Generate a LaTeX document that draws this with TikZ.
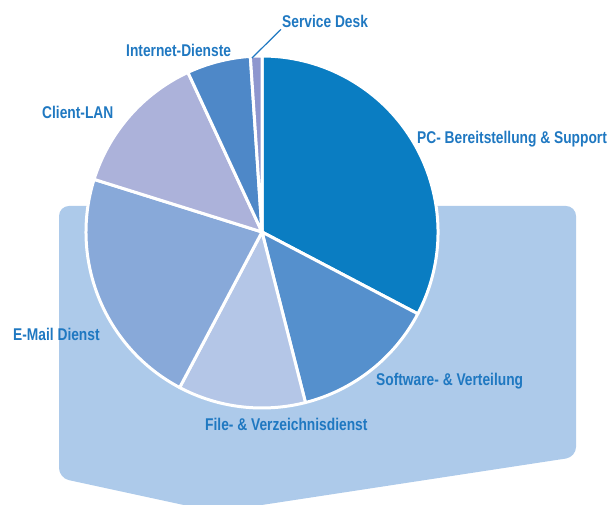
\documentclass[tikz,border=0pt]{standalone}
\usepackage{fontspec}
\setmainfont[FakeStretch=0.81]{Liberation Sans}
\usepackage{tikz}
\usetikzlibrary{calc}
\definecolor{labelblue}{HTML}{1F78C1}
\definecolor{backblue}{HTML}{ADCAEA}
\definecolor{pcblue}{HTML}{0A7DC2}
\definecolor{swblue}{HTML}{5590CD}
\definecolor{fileblue}{HTML}{B4C6E7}
\definecolor{mailblue}{HTML}{88A9D9}
\definecolor{lanblue}{HTML}{ACB2DA}
\definecolor{netblue}{HTML}{4E88C8}
\definecolor{deskblue}{HTML}{8E96CE}

\begin{document}
\begin{tikzpicture}[x=1pt, y=1pt,
	slice/.style={draw=white, line width=3pt, line join=round},
	tag/.style={anchor=base west, inner sep=0pt, text=labelblue,
		font=\bfseries\fontsize{17}{19}\selectfont}]

% parameters %{{{2

	\def\radius{176}

% frame %{{{2

	\useasboundingbox (0,0) rectangle (610,505);

% background %{{{2

	\fill[backblue, rounded corners=10pt]
		(59,299) -- (576,299) -- (576,48) -- (216,-7) -- (59,27) -- cycle;

% coordinates %{{{2

	\coordinate (O) at (262,273);

% slices %{{{2

	\foreach \a/\b/\c in {
		-27.7/90/pcblue,
		-75.7/-27.7/swblue,
		-117.9/-75.7/fileblue,
		-197.4/-117.9/mailblue,
		-245.1/-197.4/lanblue,
		-266.2/-245.1/netblue,
		-270/-266.2/deskblue} {
		\filldraw[slice, fill=\c] (O) -- ++(\a:\radius) arc (\a:\b:\radius) -- cycle;
	}

% labels %{{{2

	\node[tag] (desk) at (282,477) {Service Desk};
	\node[tag] (net) at (126,448) {Internet-Dienste};
	\node[tag] (lan) at (42,386) {Client-LAN};
	\node[tag] (pc) at (417,361) {PC- Bereitstellung \& Support};
	\node[tag] (mail) at (13,164) {E-Mail Dienst};
	\node[tag] (sw) at (376,119) {Software- \& Verteilung};
	\node[tag] (file) at (205,74) {File- \& Verzeichnisdienst};

% leader line %{{{2

	\coordinate (desktip) at ($(O)+(92:\radius)+(-4,-2)$);
	\draw[labelblue, line width=1.2pt] (desktip) -- ([xshift=-1pt,yshift=-1pt]desk.south west);

% closing %{{{2

\end{tikzpicture}
\end{document}
